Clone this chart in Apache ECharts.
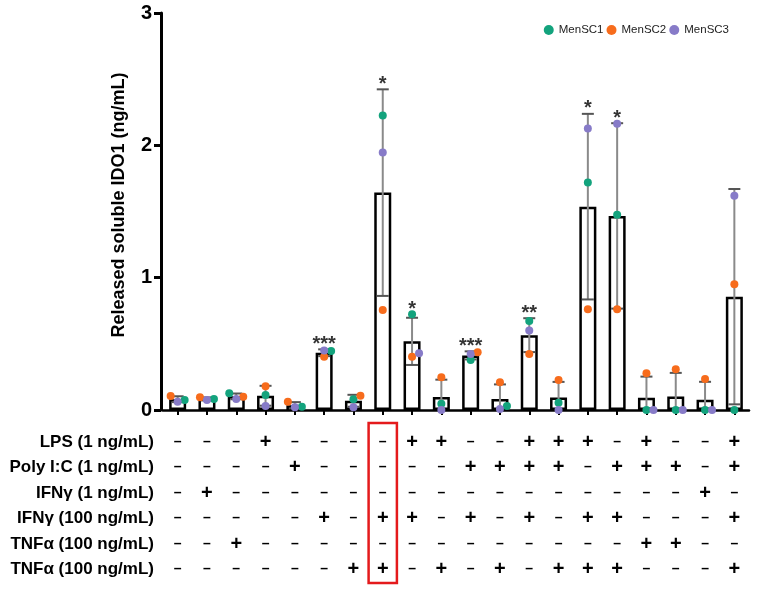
<!DOCTYPE html>
<html>
<head>
<meta charset="utf-8">
<script src="https://cdn.jsdelivr.net/npm/echarts@6/dist/echarts.min.js"></script>
<style>
html,body{margin:0;padding:0;background:#fff;}
#main{width:762px;height:592px;}
</style>
</head>
<body>
<div id="main"></div>
<script>
// ---------- data ----------
const categories = ['1','2','3','4','5','6','7','8','9','10','11','12','13','14','15','16','17','18','19','20'];
const menSC1 = [0.076, 0.083, 0.126, 0.113, 0.025, 0.446, 0.081, 2.226, 0.724, 0.048, 0.378, 0.030, 0.673, 0.055, 1.720, 1.475, 0.000, 0.000, 0.000, 0.000];
const menSC2 = [0.106, 0.096, 0.100, 0.180, 0.063, 0.403, 0.108, 0.756, 0.403, 0.247, 0.436, 0.210, 0.424, 0.227, 0.762, 0.762, 0.277, 0.308, 0.234, 0.950];
const menSC3 = [0.063, 0.076, 0.083, 0.030, 0.020, 0.449, 0.020, 1.946, 0.429, 0.000, 0.424, 0.008, 0.600, 0.000, 2.128, 2.163, 0.000, 0.000, 0.000, 1.619];
const seriesNames = ['MenSC1', 'MenSC2', 'MenSC3'];
const stars = ['', '', '', '', '', '***', '', '*', '*', '', '***', '', '**', '', '*', '*', '', '', '', ''];
const yTickValues = [0, 1, 2, 3];
const rowLabels = ['LPS (1 ng/mL)', 'Poly I:C (1 ng/mL)', 'IFNγ (1 ng/mL)', 'IFNγ (100 ng/mL)', 'TNFα (100 ng/mL)', 'TNFα (100 ng/mL)'];
const lps    = [0,0,0,1,0,0,0,0,1,1,0,0,1,1,1,0,1,0,0,1];
const polyIC = [0,0,0,0,1,0,0,0,0,0,1,1,1,1,0,1,1,1,0,1];
const ifn1   = [0,1,0,0,0,0,0,0,0,0,0,0,0,0,0,0,0,0,1,0];
const ifn100 = [0,0,0,0,0,1,0,1,1,0,1,0,1,0,1,1,0,0,0,1];
const tnfA   = [0,0,1,0,0,0,0,0,0,0,0,0,0,0,0,0,1,1,0,0];
const tnfB   = [0,0,0,0,0,0,1,1,0,1,0,1,0,1,1,1,0,0,0,1];
const highlightedIndex = 7;

// ---------- derived ----------
const groups = [menSC1, menSC2, menSC3];
const rows = [lps, polyIC, ifn1, ifn100, tnfA, tnfB];
const means = categories.map((_, i) => (menSC1[i] + menSC2[i] + menSC3[i]) / 3);
const sds = categories.map((_, i) => {
  const m = means[i];
  const ss = groups.reduce((a, g) => a + (g[i] - m) * (g[i] - m), 0);
  return Math.sqrt(ss / 2);
});

// beeswarm-like horizontal spread for overlapping points
const overlapThr = 0.045;
const jitterSlots = categories.map((_, i) => {
  const vals = groups.map(g => g[i]);
  const order = [0, 1, 2].sort((a, b) => vals[a] - vals[b]);
  const placed = [];
  const res = [0, 0, 0];
  order.forEach(k => {
    for (const slot of [0, 1, -1]) {
      if (placed.every(p => p.slot !== slot || Math.abs(p.v - vals[k]) >= overlapThr)) {
        placed.push({ slot, v: vals[k] });
        res[k] = slot;
        break;
      }
    }
  });
  return res;
});

const FONT = 'Liberation Sans, Arial, Helvetica, sans-serif';
const colors = ['#13a37d', '#f76c1c', '#877bc8'];

const chart = echarts.init(document.getElementById('main'), null, { renderer: 'canvas' });

const rowAxes = rows.map((row, k) => ({
  type: 'category',
  data: categories,
  gridIndex: 0,
  position: 'bottom',
  offset: 32 + 25.5 * k,
  axisLine: { show: false },
  axisTick: { show: false },
  splitLine: { show: false },
  axisLabel: {
    interval: 0,
    margin: 0,
    verticalAlign: 'middle',
    formatter: (v, idx) => row[idx] ? '{p|+}' : '{m|–}',
    rich: {
      p: { fontSize: 20, fontWeight: 'bold', color: '#000', fontFamily: FONT },
      m: { fontSize: 14, fontWeight: 'bold', color: '#000', fontFamily: FONT }
    }
  },
  name: rowLabels[k],
  nameLocation: 'start',
  nameGap: 9,
  nameTextStyle: { fontSize: 17, fontWeight: 'bold', color: '#000', fontFamily: FONT }
}));

const option = {
  animation: false,
  backgroundColor: '#fff',
  textStyle: { fontFamily: FONT },
  grid: { left: 163, right: 13, top: 13, bottom: 182, containLabel: false },
  legend: {
    data: seriesNames,
    icon: 'circle',
    itemWidth: 10,
    itemHeight: 10,
    itemGap: 3,
    right: 33,
    top: 24,
    padding: 0,
    textStyle: { fontSize: 11.5, color: '#222', fontFamily: FONT }
  },
  xAxis: [{
    type: 'category',
    data: categories,
    axisLine: { show: true, lineStyle: { color: '#000', width: 2.5 } },
    axisTick: { show: true, alignWithLabel: true, interval: 0, length: 5, lineStyle: { color: '#000', width: 2 } },
    axisLabel: { show: false },
    splitLine: { show: false }
  }].concat(rowAxes),
  yAxis: {
    type: 'value',
    min: yTickValues[0],
    max: yTickValues[yTickValues.length - 1],
    interval: 1,
    offset: 2,
    axisLine: { show: true, lineStyle: { color: '#000', width: 3 } },
    axisTick: { show: true, length: 7, lineStyle: { color: '#000', width: 3 } },
    axisLabel: { fontSize: 20, fontWeight: 'bold', color: '#000', margin: 9, fontFamily: FONT },
    splitLine: { show: false },
    name: 'Released soluble IDO1 (ng/mL)',
    nameLocation: 'middle',
    nameRotate: 90,
    nameGap: 33,
    nameTextStyle: { fontSize: 18, fontWeight: 'bold', color: '#000', fontFamily: FONT, padding: [0, 0, 0, 13] }
  },
  series: [
    {
      type: 'bar',
      name: 'mean',
      data: means,
      barWidth: 17,
      itemStyle: { color: '#fff', borderColor: '#000', borderWidth: 2.5 },
      silent: true,
      z: 1
    },
    {
      type: 'custom',
      name: 'sd',
      silent: true,
      z: 2,
      clip: true,
      data: categories.map((_, i) => [i, means[i] - sds[i], means[i] + sds[i]]),
      encode: { x: 0, y: [1, 2] },
      renderItem: (params, api) => {
        const i = api.value(0), lo = api.value(1), hi = api.value(2);
        const x = api.coord([i, 0])[0];
        const yHi = api.coord([i, hi])[1];
        const yLo = api.coord([i, Math.max(lo, 0)])[1];
        const children = [
          { type: 'line', shape: { x1: x, y1: yLo, x2: x, y2: yHi }, style: { stroke: '#8a8a8a', lineWidth: 2 } },
          { type: 'line', shape: { x1: x - 6, y1: yHi, x2: x + 6, y2: yHi }, style: { stroke: '#555', lineWidth: 2 } }
        ];
        if (lo > 0) {
          children.push({ type: 'line', shape: { x1: x - 6, y1: yLo, x2: x + 6, y2: yLo }, style: { stroke: '#555', lineWidth: 2 } });
        }
        return { type: 'group', children };
      }
    }
  ].concat(groups.map((g, k) => ({
    type: 'scatter',
    name: seriesNames[k],
    symbol: 'circle',
    symbolSize: 8,
    z: 3,
    itemStyle: { color: colors[k], opacity: 1 },
    data: g.map((v, i) => ({ value: [i, v], symbolOffset: [jitterSlots[i][k] * 7, 0] }))
  }))).concat([{
    type: 'scatter',
    name: 'significance',
    symbolSize: 0,
    silent: true,
    z: 4,
    data: categories.map((_, i) => [i, Math.max(means[i] + sds[i], menSC1[i], menSC2[i], menSC3[i])]).filter((d, i) => stars[i]),
    label: {
      show: true,
      position: 'inside',
      offset: [0, -5],
      formatter: p => stars[p.value[0]],
      fontSize: 20,
      fontWeight: 'bold',
      color: '#000',
      fontFamily: FONT
    }
  }])
};

chart.setOption(option);

// red box around the highlighted condition
const cx = chart.convertToPixel({ xAxisIndex: 0 }, highlightedIndex);
const bandW = chart.convertToPixel({ xAxisIndex: 0 }, 1) - chart.convertToPixel({ xAxisIndex: 0 }, 0);
chart.setOption({
  graphic: [{
    type: 'rect',
    shape: { x: cx - bandW / 2 + 0.5, y: 423, width: bandW - 1, height: 160 },
    style: { fill: 'none', stroke: '#e41a1c', lineWidth: 2.5 },
    z: 10
  }]
});
</script>
</body>
</html>
